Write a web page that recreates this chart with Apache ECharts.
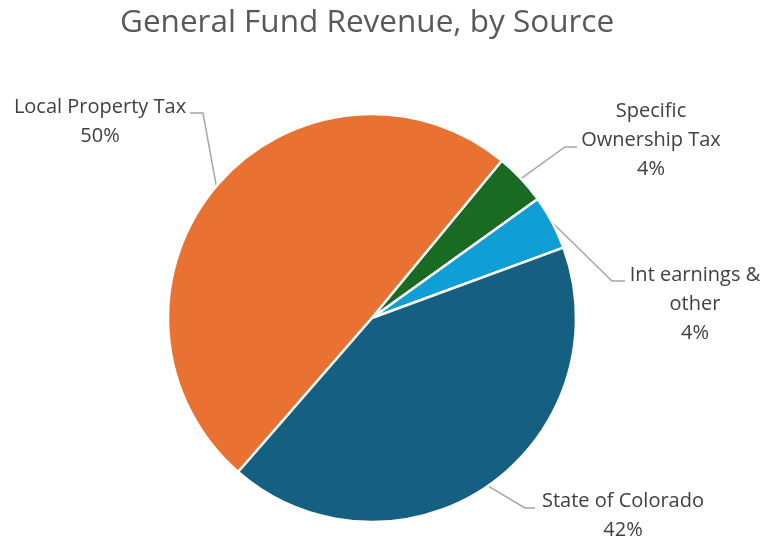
<!DOCTYPE html>
<html>
<head>
<meta charset="utf-8">
<script src="https://cdn.jsdelivr.net/npm/echarts@6/dist/echarts.min.js"></script>
<style>
html,body{margin:0;padding:0;background:#fff;}
#chart{width:763px;height:544px;}
</style>
</head>
<body>
<div id="chart"></div>
<script>
var categories = ['Local Property Tax', 'Specific\nOwnership Tax', 'Int earnings &\nother', 'State of Colorado'];
var values = [49.6, 4.1, 4.3, 42.0];
var colors = ['#E97132', '#196B24', '#0F9ED5', '#156082'];

// label placement (layout only)
var labelPos = [
  {x: 100, y: 122, p2: [203, 113], p3: [190, 113]},
  {x: 651, y: 140, p2: [565, 147], p3: [577, 147]},
  {x: 695, y: 304, p2: [612, 281], p3: [625, 281]},
  {x: 623, y: 516, p2: [525, 508], p3: [535, 508]}
];

var chart = echarts.init(document.getElementById('chart'), null, {renderer: 'canvas'});
var data = categories.map(function (c, i) {
  return {name: c, value: values[i], itemStyle: {color: colors[i]}};
});
chart.setOption({
  animation: false,
  title: {
    text: 'General Fund Revenue, by Source',
    left: 115,
    top: 2,
    textStyle: {fontFamily: 'Open Sans', fontSize: 31.5, fontWeight: 'normal', color: '#595959'}
  },
  series: [{
    type: 'pie',
    center: [372, 318],
    radius: 204,
    startAngle: 229,
    clockwise: true,
    avoidLabelOverlap: false,
    itemStyle: {borderColor: '#ffffff', borderWidth: 2.5},
    label: {
      show: true,
      position: 'outside',
      fontFamily: 'Open Sans',
      fontSize: 20,
      color: '#404040',
      lineHeight: 29,
      align: 'center',
      formatter: function (p) { return p.name + '\n' + Math.round(p.percent) + '%'; }
    },
    labelLine: {show: true, length: 10, length2: 10, lineStyle: {color: '#A6A6A6', width: 1.5}},
    labelLayout: function (params) {
      var lp = labelPos[params.dataIndex];
      var anchor = params.labelLinePoints ? params.labelLinePoints[0] : lp.p2;
      return {
        x: lp.x,
        y: lp.y,
        align: 'center',
        verticalAlign: 'middle',
        labelLinePoints: [anchor, lp.p2, lp.p3]
      };
    },
    data: data
  }]
});
</script>
</body>
</html>
